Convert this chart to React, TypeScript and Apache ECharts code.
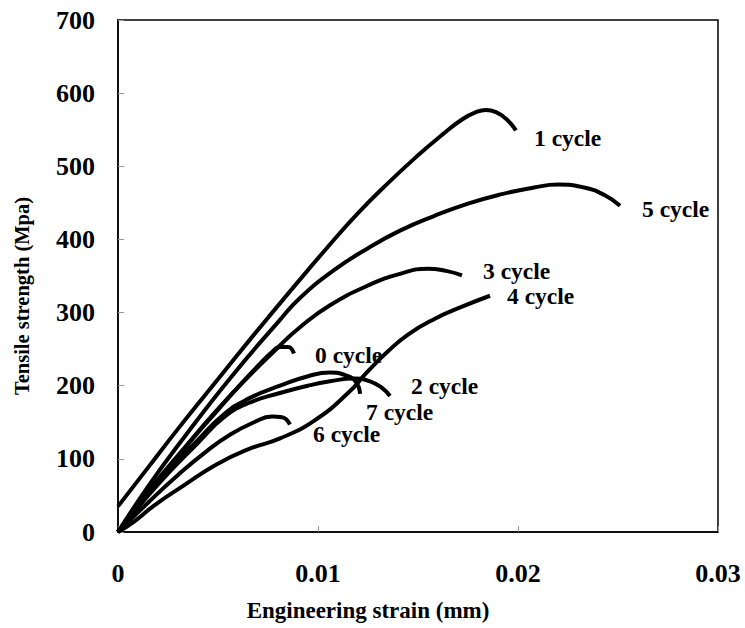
import React, { useEffect, useRef } from "react";
import * as echarts from "echarts";

const xTicks = [0, 0.01, 0.02, 0.03];
const yTicks = [0, 100, 200, 300, 400, 500, 600, 700];

const seriesNames = ["0 cycle", "1 cycle", "2 cycle", "3 cycle", "4 cycle", "5 cycle", "6 cycle", "7 cycle"];

const cycle0 = [[0, 0], [0.001, 36], [0.002, 70], [0.003, 103], [0.004, 136], [0.005, 167], [0.006, 198], [0.0071, 230], [0.0077, 246], [0.0081, 253], [0.0085, 253], [0.0088, 244]];
const cycle1 = [[0, 35], [0.0015, 88], [0.003, 141], [0.0045, 192], [0.006, 243], [0.0075, 293], [0.009, 342], [0.0105, 390], [0.012, 436], [0.0135, 477], [0.015, 515], [0.0162, 543], [0.0172, 564], [0.0179, 574], [0.0184, 577], [0.0189, 574], [0.0194, 565], [0.0199, 549]];
const cycle2 = [[0, 0], [0.002, 65], [0.004, 122], [0.0053, 157], [0.0065, 176], [0.0081, 190], [0.0095, 200], [0.0106, 206], [0.0118, 210], [0.0126, 206], [0.0132, 197], [0.0136, 186]];
const cycle3 = [[0, 0], [0.0015, 55], [0.0031, 108], [0.0056, 186], [0.0081, 255], [0.0091, 280], [0.0106, 310], [0.0125, 337], [0.0141, 353], [0.0155, 360], [0.0164, 357], [0.0172, 351]];
const cycle4 = [[0, 0], [0.0007, 12], [0.0018, 36], [0.0032, 62], [0.0049, 92], [0.0065, 113], [0.0081, 128], [0.0098, 152], [0.0115, 190], [0.0125, 220], [0.0135, 247], [0.0145, 270], [0.0158, 291], [0.0172, 308], [0.0186, 323]];
const cycle5 = [[0, 0], [0.0015, 62], [0.0031, 122], [0.0056, 210], [0.0081, 290], [0.0091, 320], [0.0108, 358], [0.0125, 388], [0.0141, 412], [0.0158, 432], [0.0175, 449], [0.0192, 462], [0.0208, 471], [0.022, 475], [0.0233, 471], [0.0243, 461], [0.0251, 446]];
const cycle6 = [[0, 0], [0.0015, 40], [0.003, 78], [0.0045, 112], [0.0056, 133], [0.0068, 150], [0.0077, 158], [0.0082, 157], [0.0086, 147]];
const cycle7 = [[0, 0], [0.002, 68], [0.004, 126], [0.0053, 161], [0.0065, 182], [0.0081, 200], [0.0095, 213], [0.0106, 218], [0.0114, 214], [0.0119, 205], [0.0121, 189]];

const seriesData = [cycle0, cycle1, cycle2, cycle3, cycle4, cycle5, cycle6, cycle7];
const labelOffsets: [number, number][] = [[21, 1], [18, 8], [21, -10], [21, -4], [17, 0], [22, 3], [23, 10], [6, 18]];

const FONT = "'Liberation Serif', 'Times New Roman', serif";

export default function App() {
  const ref = useRef<HTMLDivElement>(null);
  useEffect(() => {
    if (!ref.current) return;
    const chart = echarts.init(ref.current, null, { renderer: "svg" });
    const series = seriesData.map((d, i) => ({
      type: "line",
      name: seriesNames[i],
      data: d,
      smooth: 0.5,
      symbol: "none",
      lineStyle: { color: "#000", width: 4 },
      endLabel: {
        show: true,
        formatter: "{a}",
        distance: 0,
        align: "left",
        verticalAlign: "middle",
        offset: labelOffsets[i],
        fontFamily: FONT,
        fontWeight: "bold",
        fontSize: 23.5,
        color: "#000",
      },
    }));
    chart.setOption({
      animation: false,
      grid: {
        left: 118,
        right: 27,
        top: 20,
        bottom: 96,
        show: true,
        borderColor: "#000",
        borderWidth: 1.5,
        backgroundColor: "transparent",
      },
      xAxis: {
        type: "value",
        min: xTicks[0],
        max: xTicks[xTicks.length - 1],
        interval: 0.01,
        name: "Engineering strain (mm)",
        nameLocation: "middle",
        nameGap: 67,
        nameTextStyle: {
          fontFamily: FONT,
          fontWeight: "bold",
          fontSize: 23,
          color: "#000",
          padding: [0, 100, 0, 0],
        },
        splitLine: { show: false },
        axisLine: { show: true, lineStyle: { color: "#000", width: 1.5 } },
        axisTick: { show: true, inside: true, length: 6, lineStyle: { color: "#999", width: 1 } },
        axisLabel: {
          fontFamily: FONT,
          fontWeight: "bold",
          fontSize: 26,
          color: "#000",
          margin: 28,
          formatter: (v: number) => String(parseFloat(v.toFixed(2))),
        },
      },
      yAxis: {
        type: "value",
        min: yTicks[0],
        max: yTicks[yTicks.length - 1],
        interval: 100,
        name: "Tensile strength (Mpa)",
        nameLocation: "middle",
        nameGap: 86,
        nameTextStyle: {
          fontFamily: FONT,
          fontWeight: "bold",
          fontSize: 20.5,
          color: "#000",
          padding: [0, 40, 0, 0],
        },
        splitLine: { show: false },
        axisLine: { show: true, lineStyle: { color: "#000", width: 1.5 } },
        axisTick: { show: true, inside: true, length: 6, lineStyle: { color: "#999", width: 1 } },
        axisLabel: {
          fontFamily: FONT,
          fontWeight: "bold",
          fontSize: 26,
          color: "#000",
          margin: 23,
        },
      },
      series,
    });
    return () => chart.dispose();
  }, []);
  return <div ref={ref} style={{ position: "absolute", left: 0, top: 0, width: 745, height: 628 }} />;
}
